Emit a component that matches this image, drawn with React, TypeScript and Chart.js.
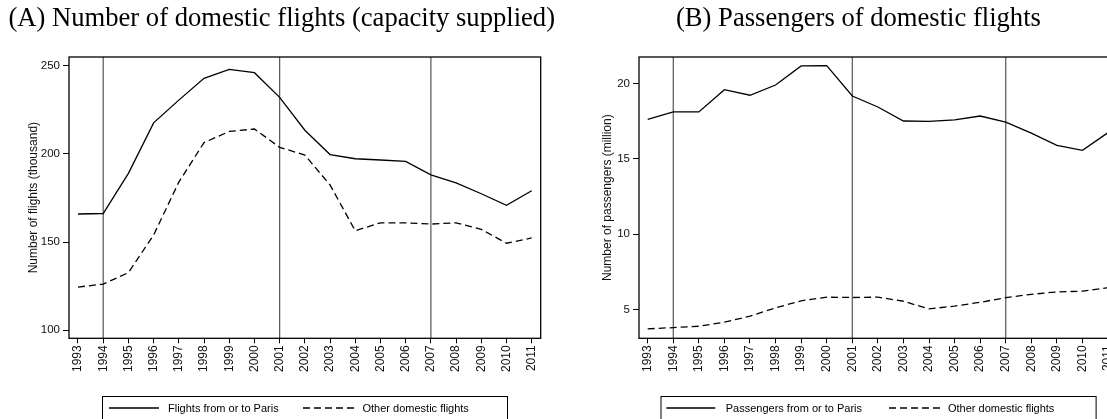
import React, { useEffect, useRef } from "react";
import { Chart, registerables } from "chart.js";

Chart.register(...registerables);

// ---------- data ----------
const years = [1993, 1994, 1995, 1996, 1997, 1998, 1999, 2000, 2001, 2002, 2003, 2004, 2005, 2006, 2007, 2008, 2009, 2010, 2011];
const flightsParis = [165.9, 166.2, 189.0, 217.7, 230.6, 243.0, 248.1, 246.2, 232.2, 213.5, 199.7, 197.3, 196.6, 195.8, 188.1, 183.6, 177.4, 170.9, 179.1];
const flightsOther = [124.4, 126.1, 132.6, 154.0, 184.0, 206.5, 212.8, 214.2, 203.8, 199.4, 182.4, 156.4, 160.9, 160.9, 160.2, 160.9, 157.2, 149.3, 152.3];
const passengersParis = [17.63, 18.12, 18.12, 19.6, 19.23, 19.91, 21.18, 21.2, 19.18, 18.45, 17.52, 17.5, 17.6, 17.85, 17.45, 16.72, 15.9, 15.57, 16.75];
const passengersOther = [3.72, 3.8, 3.89, 4.16, 4.56, 5.11, 5.58, 5.82, 5.8, 5.82, 5.55, 5.04, 5.23, 5.48, 5.79, 6.01, 6.17, 6.22, 6.45];
const eventYears = [1994, 2001, 2007];
const flightTicks = [100, 150, 200, 250];
const passengerTicks = [5, 10, 15, 20];
const flightLegend = ["Flights from or to Paris", "Other domestic flights"];
const passengerLegend = ["Passengers from or to Paris", "Other domestic flights"];
const titleA = "(A) Number of domestic flights (capacity supplied)";
const titleB = "(B) Passengers of domestic flights";
const yTitleA = "Number of flights (thousand)";
const yTitleB = "Number of passengers (million)";

const SANS = '"Liberation Sans", Arial, sans-serif';
const SERIF = '"Liberation Serif", "Times New Roman", serif';
const DASH = [7, 4];

Chart.defaults.font.family = SANS;

const panelPlugin = {
  id: "panelDeco",
  beforeDatasetsDraw(chart: any, _args: any, opts: any) {
    const { ctx, chartArea, scales } = chart;
    ctx.save();
    ctx.strokeStyle = "#555";
    ctx.lineWidth = 1.2;
    for (const yr of opts.refYears) {
      const x = scales.x.getPixelForValue(yr);
      ctx.beginPath();
      ctx.moveTo(x, chartArea.top);
      ctx.lineTo(x, chartArea.bottom);
      ctx.stroke();
    }
    ctx.restore();
  },
  afterDraw(chart: any, _args: any, opts: any) {
    const { ctx, chartArea } = chart;
    ctx.save();
    // frame
    ctx.strokeStyle = "#000";
    ctx.lineWidth = 1.3;
    ctx.strokeRect(chartArea.left, chartArea.top, chartArea.right - chartArea.left, chartArea.bottom - chartArea.top);
    // title
    ctx.fillStyle = "#000";
    ctx.font = `26.6px ${SERIF}`;
    ctx.textAlign = "left";
    ctx.textBaseline = "alphabetic";
    ctx.fillText(opts.title, opts.titleX, 26);
    // legend
    const lg = opts.legend;
    ctx.lineWidth = 1;
    ctx.strokeRect(lg.box[0] + 0.5, 396.5, lg.box[1] - lg.box[0], 25);
    ctx.font = `11px ${SANS}`;
    ctx.textBaseline = "middle";
    const yMid = 408;
    lg.items.forEach((it: any, i: number) => {
      ctx.beginPath();
      ctx.lineWidth = 1.3;
      ctx.setLineDash(i === 0 ? [] : DASH);
      ctx.moveTo(it.s0, yMid);
      ctx.lineTo(it.s1, yMid);
      ctx.stroke();
      ctx.setLineDash([]);
      ctx.fillText(opts.labels[i], it.tx, yMid + 0.5);
    });
    ctx.restore();
  },
};

type PanelProps = {
  left: number;
  width: number;
  padRight: number;
  xMin: number;
  xMax: number;
  yMin: number;
  yMax: number;
  yTicks: number[];
  solid: number[];
  dashed: number[];
  labels: string[];
  title: string;
  titleX: number;
  yTitle: string;
  yTitlePad: number;
  legend: any;
};

function Panel(p: PanelProps) {
  const ref = useRef<HTMLCanvasElement>(null);
  useEffect(() => {
    const mk = (vals: number[]) => years.map((yr, i) => ({ x: yr, y: vals[i] }));
    const chart = new Chart(ref.current as HTMLCanvasElement, {
      type: "line",
      data: {
        datasets: [
          { label: p.labels[0], data: mk(p.solid), borderColor: "#000", borderWidth: 1.3, pointRadius: 0, tension: 0, fill: false },
          { label: p.labels[1], data: mk(p.dashed), borderColor: "#000", borderWidth: 1.3, borderDash: DASH, pointRadius: 0, tension: 0, fill: false },
        ],
      },
      options: {
        animation: false,
        responsive: false,
        devicePixelRatio: 1,
        events: [],
        layout: { padding: { top: 57, left: 0, right: p.padRight, bottom: 30.7 } },
        plugins: {
          legend: { display: false },
          tooltip: { enabled: false },
          panelDeco: { refYears: eventYears, title: p.title, titleX: p.titleX, legend: p.legend, labels: p.labels },
        } as any,
        scales: {
          x: {
            type: "linear",
            min: p.xMin,
            max: p.xMax,
            afterBuildTicks: (s: any) => {
              s.ticks = years.map((v) => ({ value: v }));
            },
            afterFit: (s: any) => {
              s.height = 50;
            },
            ticks: {
              autoSkip: false,
              minRotation: 90,
              maxRotation: 90,
              padding: 2,
              color: "#111",
              font: { size: 12, family: SANS },
              callback: (v: any) => String(v),
            },
            grid: { drawOnChartArea: false, drawTicks: true, tickLength: 5, color: "#000", lineWidth: 1 },
            border: { display: false },
          },
          y: {
            type: "linear",
            min: p.yMin,
            max: p.yMax,
            afterBuildTicks: (s: any) => {
              s.ticks = p.yTicks.map((v) => ({ value: v }));
            },
            afterFit: (s: any) => {
              s.width = 69;
            },
            ticks: { padding: 3, color: "#111", font: { size: 11.5, family: SANS }, callback: (v: any) => String(v) },
            grid: { drawOnChartArea: false, drawTicks: true, tickLength: 6, color: "#000", lineWidth: 1 },
            border: { display: false },
            title: { display: true, text: p.yTitle, color: "#111", font: { size: 12, family: SANS }, padding: { top: p.yTitlePad, bottom: 0 } },
          },
        },
      },
      plugins: [panelPlugin as any],
    });
    return () => chart.destroy();
  }, []);
  return (
    <canvas
      ref={ref}
      width={p.width}
      height={419}
      style={{ position: "absolute", left: p.left, top: 0, width: p.width, height: 419 }}
    />
  );
}

export default function App() {
  return (
    <div style={{ position: "fixed", left: 0, top: 0, width: 1107, height: 419, overflow: "hidden", background: "#fff" }}>
      <Panel
        left={0}
        width={570}
        padRight={29.3}
        xMin={1992.643}
        xMax={2011.357}
        yMin={95.3}
        yMax={255.1}
        yTicks={flightTicks}
        solid={flightsParis}
        dashed={flightsOther}
        labels={flightLegend}
        title={titleA}
        titleX={8.5}
        yTitle={yTitleA}
        yTitlePad={26}
        legend={{ box: [102, 507], items: [{ s0: 109, s1: 159, tx: 168 }, { s0: 303, s1: 354, tx: 362.5 }] }}
      />
      <Panel
        left={570}
        width={580}
        padRight={33}
        xMin={1992.66}
        xMax={2011.35}
        yMin={3.09}
        yMax={21.77}
        yTicks={passengerTicks}
        solid={passengersParis}
        dashed={passengersOther}
        labels={passengerLegend}
        title={titleB}
        titleX={106}
        yTitle={yTitleB}
        yTitlePad={30.8}
        legend={{ box: [90.5, 525.6], items: [{ s0: 96.4, s1: 145.3, tx: 155.7 }, { s0: 319, s1: 370, tx: 378 }] }}
      />
    </div>
  );
}
